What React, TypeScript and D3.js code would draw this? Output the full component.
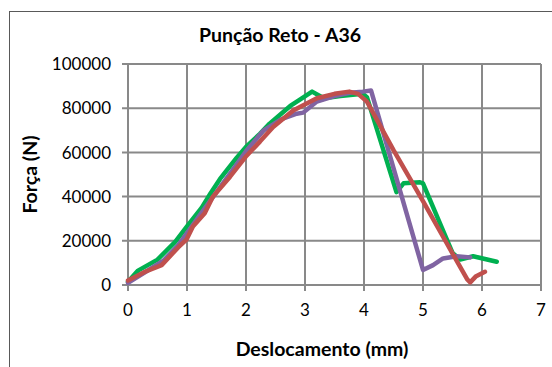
import React from 'react';
import * as d3 from 'd3';

// Deslocamento (mm) / Força (N)
const greenX = [0, 0.17, 0.5, 0.8, 1.0, 1.25, 1.4, 1.56, 1.84, 2.0, 2.24, 2.4, 2.75, 2.92, 3.12, 3.32, 3.6, 3.98, 4.05, 4.55, 4.67, 4.95, 5.0, 5.5, 5.63, 5.85, 6.25];
const greenY = [1500, 6500, 11500, 19500, 26500, 35000, 41500, 48000, 57500, 62500, 68500, 73000, 81000, 84000, 87500, 84500, 85500, 86500, 85000, 42000, 46000, 46500, 46000, 14500, 11500, 13000, 10500];

const purpleX = [0, 0.3, 0.6, 0.85, 1.0, 1.2, 1.5, 1.8, 2.0, 2.3, 2.6, 2.86, 2.97, 3.2, 3.5, 3.76, 3.98, 4.12, 5.0, 5.17, 5.34, 5.57, 5.8];
const purpleY = [1000, 6000, 11000, 18000, 23500, 31000, 42000, 53000, 60500, 70000, 75000, 77500, 78000, 83000, 85500, 87000, 87500, 88000, 6800, 9000, 12000, 13000, 12500];

const redX = [0, 0.29, 0.57, 0.85, 0.99, 1.1, 1.3, 1.44, 1.73, 2.01, 2.24, 2.46, 2.8, 3.2, 3.5, 3.75, 3.9, 4.05, 4.5, 5.0, 5.4, 5.75, 5.8, 5.9, 6.05];
const redY = [2000, 6000, 9000, 17000, 20500, 26500, 32500, 40000, 49000, 58500, 65000, 71500, 79000, 84500, 86500, 87500, 86500, 83000, 61000, 38000, 19000, 2500, 1200, 4000, 6000];

const xTicks = [0, 1, 2, 3, 4, 5, 6, 7];
const yTicks = [0, 20000, 40000, 60000, 80000, 100000];

const series = [
  { xs: greenX, ys: greenY, color: '#00B050' },
  { xs: purpleX, ys: purpleY, color: '#8064A2' },
  { xs: redX, ys: redY, color: '#C0504D' },
];

const W = 552;
const H = 367;
const plot = { left: 128, right: 541, top: 64, bottom: 285 };
const font = 'Lato, "Open Sans", sans-serif';

export default function App() {
  const x = d3.scaleLinear().domain([0, 7]).range([plot.left, plot.right]);
  const y = d3.scaleLinear().domain([0, 100000]).range([plot.bottom, plot.top]);
  const line = d3.line<[number, number]>().x(d => x(d[0])).y(d => y(d[1]));
  const grid = '#898989';

  return (
    <svg width={W} height={H} style={{ position: 'absolute', left: 0, top: 0 }} fontFamily={font}>
      <rect x={0} y={0} width={W} height={H} fill="#fff" />
      <rect x={9.5} y={11.5} width={W + 20} height={H + 20} fill="none" stroke="#595959" strokeWidth={1} />

      {/* gridlines */}
      {yTicks.map(t => (
        <line key={'gy' + t} x1={plot.left - 6} x2={plot.right} y1={y(t)} y2={y(t)} stroke={grid} strokeWidth={2} />
      ))}
      {xTicks.map(t => (
        <line key={'gx' + t} x1={x(t)} x2={x(t)} y1={plot.top} y2={plot.bottom + 6} stroke={grid} strokeWidth={2} />
      ))}

      {/* tick labels */}
      {yTicks.map(t => (
        <text key={'ly' + t} x={111} y={y(t)} dy="0.36em" textAnchor="end" fontSize={17} fill="#000">{t}</text>
      ))}
      {xTicks.map(t => (
        <text key={'lx' + t} x={x(t)} y={316} textAnchor="middle" fontSize={17} fill="#000">{t}</text>
      ))}

      {/* series */}
      {series.map((s, i) => (
        <path key={i} d={line(s.xs.map((v, j) => [v, s.ys[j]] as [number, number])) || ''}
          fill="none" stroke={s.color} strokeWidth={4.5} strokeLinejoin="round" strokeLinecap="round" />
      ))}

      <text x={280} y={42} textAnchor="middle" fontSize={19.5} fontWeight="bold" fill="#000">Punção Reto - A36</text>
      <text x={322} y={356} textAnchor="middle" fontSize={19.5} fontWeight="bold" fill="#000">Deslocamento (mm)</text>
      <text transform={`translate(37,${(plot.top + plot.bottom) / 2}) rotate(-90)`} textAnchor="middle" fontSize={19.5} fontWeight="bold" fill="#000">Força (N)</text>
    </svg>
  );
}
